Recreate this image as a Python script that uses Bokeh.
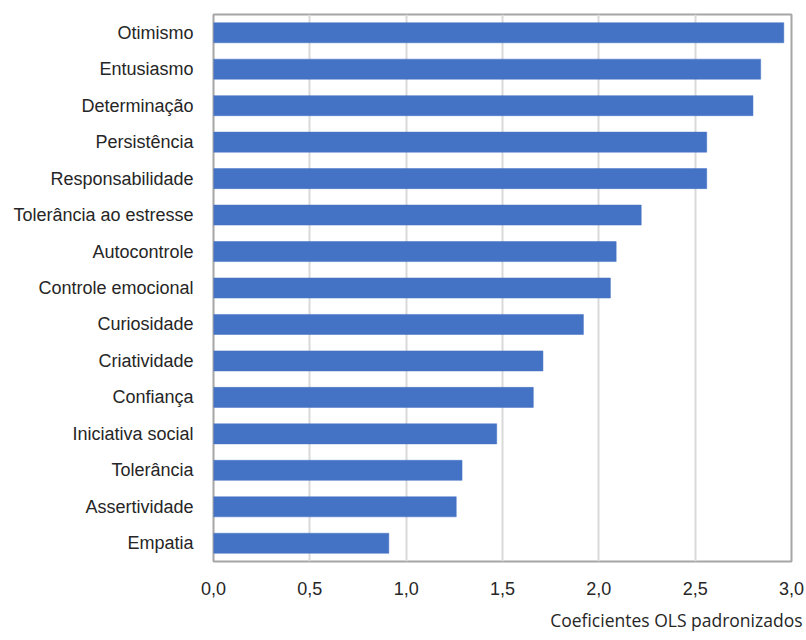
from bokeh.plotting import figure
from bokeh.models import FactorRange, Range1d, FixedTicker, Title
from bokeh.embed import file_html
from bokeh.resources import INLINE

# Traits and their standardized OLS coefficients (top to bottom)
traits = [
    "Otimismo", "Entusiasmo", "Determinação", "Persistência", "Responsabilidade",
    "Tolerância ao estresse", "Autocontrole", "Controle emocional", "Curiosidade",
    "Criatividade", "Confiança", "Iniciativa social", "Tolerância", "Assertividade",
    "Empatia",
]
coefficients = [2.96, 2.84, 2.80, 2.56, 2.56, 2.22, 2.09, 2.06, 1.92, 1.71, 1.66,
                1.47, 1.29, 1.26, 0.91]
x_ticks = [0.0, 0.5, 1.0, 1.5, 2.0, 2.5, 3.0]
x_tick_labels = ["0,0", "0,5", "1,0", "1,5", "2,0", "2,5", "3,0"]
axis_title = "Coeficientes OLS padronizados"

p = figure(
    width=806, height=640,
    y_range=FactorRange(*reversed(traits), range_padding=0),
    x_range=Range1d(0, 3.0),
    output_backend="svg", toolbar_location=None,
    min_border_left=213, min_border_right=15, min_border_top=14, min_border_bottom=78,
)
p.y_range.factor_padding = 0
p.y_range.range_padding = 0

p.hbar(y=traits, right=coefficients, left=0, height=0.55,
       fill_color="#4472C4", line_color="#4472C4", line_width=0.5)

# grid / frame styling
p.ygrid.grid_line_color = None
p.xgrid.grid_line_color = "#d9d9d9"
p.xgrid.grid_line_width = 2
p.xaxis.ticker = FixedTicker(ticks=x_ticks)
p.xaxis.major_label_overrides = {t: l for t, l in zip(x_ticks, x_tick_labels)}
p.outline_line_color = "#a6a6a6"
p.outline_line_width = 2
p.background_fill_color = "white"
p.border_fill_color = "white"

for ax in (p.xaxis[0], p.yaxis[0]):
    ax.axis_line_color = None
    ax.major_tick_line_color = None
    ax.minor_tick_line_color = None
    ax.major_label_text_font = "Liberation Sans"
    ax.major_label_text_font_size = "18px"
    ax.major_label_text_color = "#262626"

p.yaxis.major_label_standoff = 14
p.xaxis.major_label_standoff = 14

# axis title, right-aligned below the tick labels
p.add_layout(Title(
    text=axis_title, align="right", standoff=17, offset=-11,
    text_font="Open Sans", text_font_size="17.5px", text_font_style="normal",
    text_color="#262626",
), "below")

open("out.html", "w").write(file_html(p, INLINE))
